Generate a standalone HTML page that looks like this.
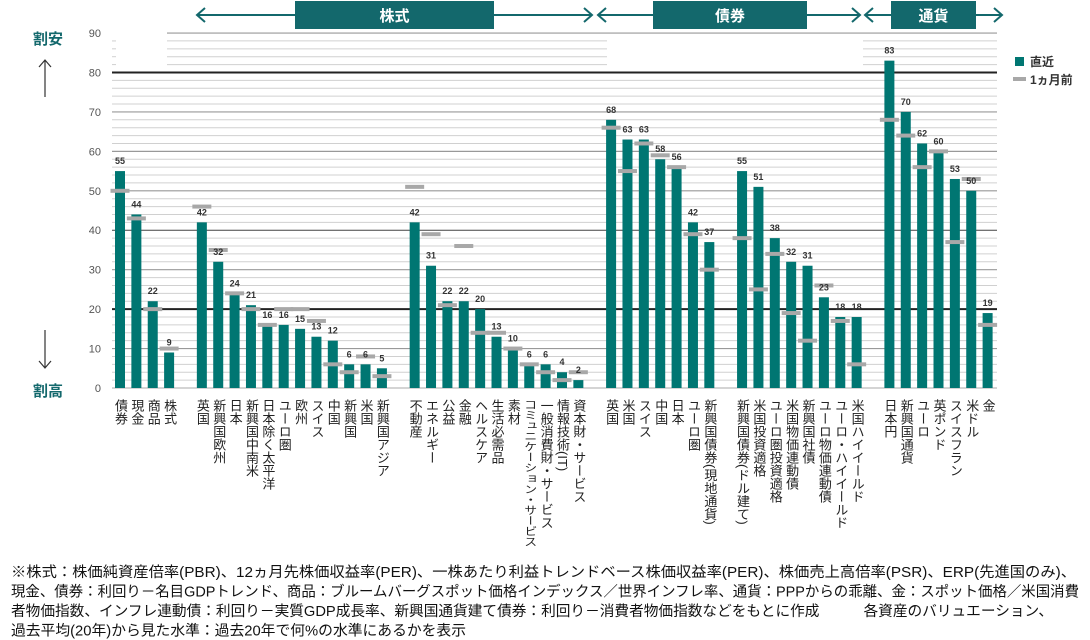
<!DOCTYPE html>
<html><head><meta charset="utf-8"><style>
html,body{margin:0;padding:0;background:#fff;width:1090px;height:640px;overflow:hidden}
svg{display:block;font-family:"Liberation Sans","Noto Sans CJK JP",sans-serif}
.vl{position:absolute;top:399px;writing-mode:vertical-rl;font-family:"Liberation Sans","Noto Sans CJK JP",sans-serif;font-size:13px;line-height:14px;color:#222;transform-origin:top center;white-space:nowrap}
</style></head><body>
<div style="position:relative;width:1090px;height:640px">
<svg id="chart" width="1090" height="640"></svg>
<div id="labels"></div>
</div>
<script>
const categories=["債券","現金","商品","株式","英国","新興国欧州","日本","新興国中南米","日本除く太平洋","ユーロ圏","欧州","スイス","中国","新興国","米国","新興国アジア","不動産","エネルギー","公益","金融","ヘルスケア","生活必需品","素材","コミュニケーション・サービス","一般消費財・サービス","情報技術(IT)","資本財・サービス","英国","米国","スイス","中国","日本","ユーロ圏","新興国債券(現地通貨)","新興国債券(ドル建て)","米国投資適格","ユーロ圏投資適格","米国物価連動債","新興国社債","ユーロ物価連動債","ユーロ・ハイイールド","米国ハイイールド","日本円","新興国通貨","ユーロ","英ポンド","スイスフラン","米ドル","金"];
const slots=[0,1,2,3,5,6,7,8,9,10,11,12,13,14,15,16,18,19,20,21,22,23,24,25,26,27,28,30,31,32,33,34,35,36,38,39,40,41,42,43,44,45,47,48,49,50,51,52,53];
const latest=[55,44,22,9,42,32,24,21,16,16,15,13,12,6,6,5,42,31,22,22,20,13,10,6,6,4,2,68,63,63,58,56,42,37,55,51,38,32,31,23,18,18,83,70,62,60,53,50,19];
const prevMonth=[50,43,20,10,46,35,24,20,16,20,20,17,6,4,8,3,51,39,21,36,14,14,10,6,4,2,4,66,55,62,59,56,39,30,38,25,34,19,12,26,17,6,68,64,56,60,37,53,16];
const yTicks=[0,10,20,30,40,50,60,70,80,90];

const NS="http://www.w3.org/2000/svg";
const svg=document.getElementById('chart');
const X0=120,STEP=16.37,Y0=388,YU=3.944;
function xs(i){return X0+slots[i]*STEP;}
function ys(v){return Y0-v*YU;}
function mk(tag,attrs,parent){const e=document.createElementNS(NS,tag);for(const k in attrs)e.setAttribute(k,attrs[k]);(parent||svg).appendChild(e);return e;}

for(let v=0;v<=90;v+=2){
  const y=ys(v);
  let col='#d0d0d0',w=1;
  if(v%10===0){col='#999';w=1.2;}
  if(v===40){col='#444';w=1;}
  if(v===20||v===80){col='#222';w=2;}
  if(v===0){col='#bbb';}
  if(v>80&&v<90){
    const g1=mk('line',{x1:112,x2:116,y1:y,y2:y,stroke:col,'stroke-width':w});
    
    const g2=mk('line',{x1:167,x2:607,y1:y,y2:y,stroke:col,'stroke-width':w});
    
    const g3=mk('line',{x1:863,x2:997,y1:y,y2:y,stroke:col,'stroke-width':w});
    
  } else {
    const g=mk('line',{x1:v===90?167:112,x2:997,y1:y,y2:y,stroke:col,'stroke-width':w});
    
  }
}
yTicks.forEach(t=>{
  const e=mk('text',{x:101,y:ys(t)+4,'text-anchor':'end','font-size':11,fill:'#555'});
  e.textContent=t;
  
});
latest.forEach((v,i)=>{
  const cx=xs(i);
  const b=mk('rect',{x:cx-5,y:ys(v),width:10,height:v*YU,fill:'#007672'});
  
});
prevMonth.forEach((v,i)=>{
  const cx=xs(i);
  const m=mk('rect',{x:cx-9.5,y:ys(v)-2,width:19,height:4,fill:'#a8a8a8'});
  
});
latest.forEach((v,i)=>{
  const t=mk('text',{x:xs(i),y:ys(v)-7,'text-anchor':'middle','font-size':9,'font-weight':'bold',fill:'#333'});
  t.textContent=v;
  
});
const teal='#13686c';
function arrowLine(x1,x2,y){
  const l=mk('line',{x1:x1,x2:x2,y1:y,y2:y,stroke:teal,'stroke-width':2});
  
}
function head(x,y,dir){
  const p=mk('polyline',{points:dir<0?`${x+8},${y-7} ${x},${y} ${x+8},${y+7}`:`${x-8},${y-7} ${x},${y} ${x-8},${y+7}`,fill:'none',stroke:teal,'stroke-width':2});
  
}
[[197,295,494,592,'株式','equity-header'],[598,653,807,860,'債券','bond-header'],[865,891,976,1002,'通貨','currency-header']].forEach(s=>{
  arrowLine(s[0],s[1],15);arrowLine(s[2],s[3],15);head(s[0],15,-1);head(s[3],15,1);
  const r=mk('rect',{x:s[1],y:1,width:s[2]-s[1],height:28,fill:teal});
  
  const t=mk('text',{x:(s[1]+s[2])/2,y:21,'text-anchor':'middle','font-size':15,'font-weight':'bold',fill:'#fff'});
  t.textContent=s[4];
});
const a1=mk('text',{x:48,y:44,'text-anchor':'middle','font-size':15,'font-weight':'bold',fill:teal});a1.textContent='割安';

const a2=mk('text',{x:48,y:396,'text-anchor':'middle','font-size':15,'font-weight':'bold',fill:teal});a2.textContent='割高';

const au=mk('path',{d:'M45 97 V60 M39 67 L45 60 L51 67',fill:'none',stroke:'#333','stroke-width':1.2});

const ad=mk('path',{d:'M45 330 V368 M39 361 L45 368 L51 361',fill:'none',stroke:'#333','stroke-width':1.2});

const l1=mk('rect',{x:1015,y:57,width:9,height:9,fill:'#007672'});
const l2=mk('text',{x:1030,y:66,'font-size':12,'font-weight':'bold',fill:'#333'});l2.textContent='直近';
const l3=mk('rect',{x:1013,y:77,width:13,height:4,fill:'#a8a8a8'});
const l4=mk('text',{x:1030,y:84,'font-size':12,'font-weight':'bold',fill:'#333'});l4.textContent='1ヵ月前';
const notes=["※株式：株価純資産倍率(PBR)、12ヵ月先株価収益率(PER)、一株あたり利益トレンドベース株価収益率(PER)、株価売上高倍率(PSR)、ERP(先進国のみ)、",
"現金、債券：利回り－名目GDPトレンド、商品：ブルームバーグスポット価格インデックス／世界インフレ率、通貨：PPPからの乖離、金：スポット価格／米国消費",
"者物価指数、インフレ連動債：利回り－実質GDP成長率、新興国通貨建て債券：利回り－消費者物価指数などをもとに作成　　　各資産のバリュエーション、",
"過去平均(20年)から見た水準：過去20年で何%の水準にあるかを表示"];
const nl=[1065,1068,1042,455];
notes.forEach((n,i)=>{
  const t=mk('text',{x:11,y:577+i*19.5,'font-size':14.5,fill:'#111',textLength:nl[i],lengthAdjust:'spacingAndGlyphs'});
  t.textContent=n;
});
const lab=document.getElementById('labels');
categories.forEach((c,i)=>{
  const d=document.createElement('div');
  d.className='vl';
  d.style.left=(xs(i)-7)+'px';
  d.textContent=c;
  
  
  lab.appendChild(d);
  const h=d.offsetHeight;
  if(h>148){d.style.transform='scaleY('+(148/h)+')';}
});
</script>
</body></html>
